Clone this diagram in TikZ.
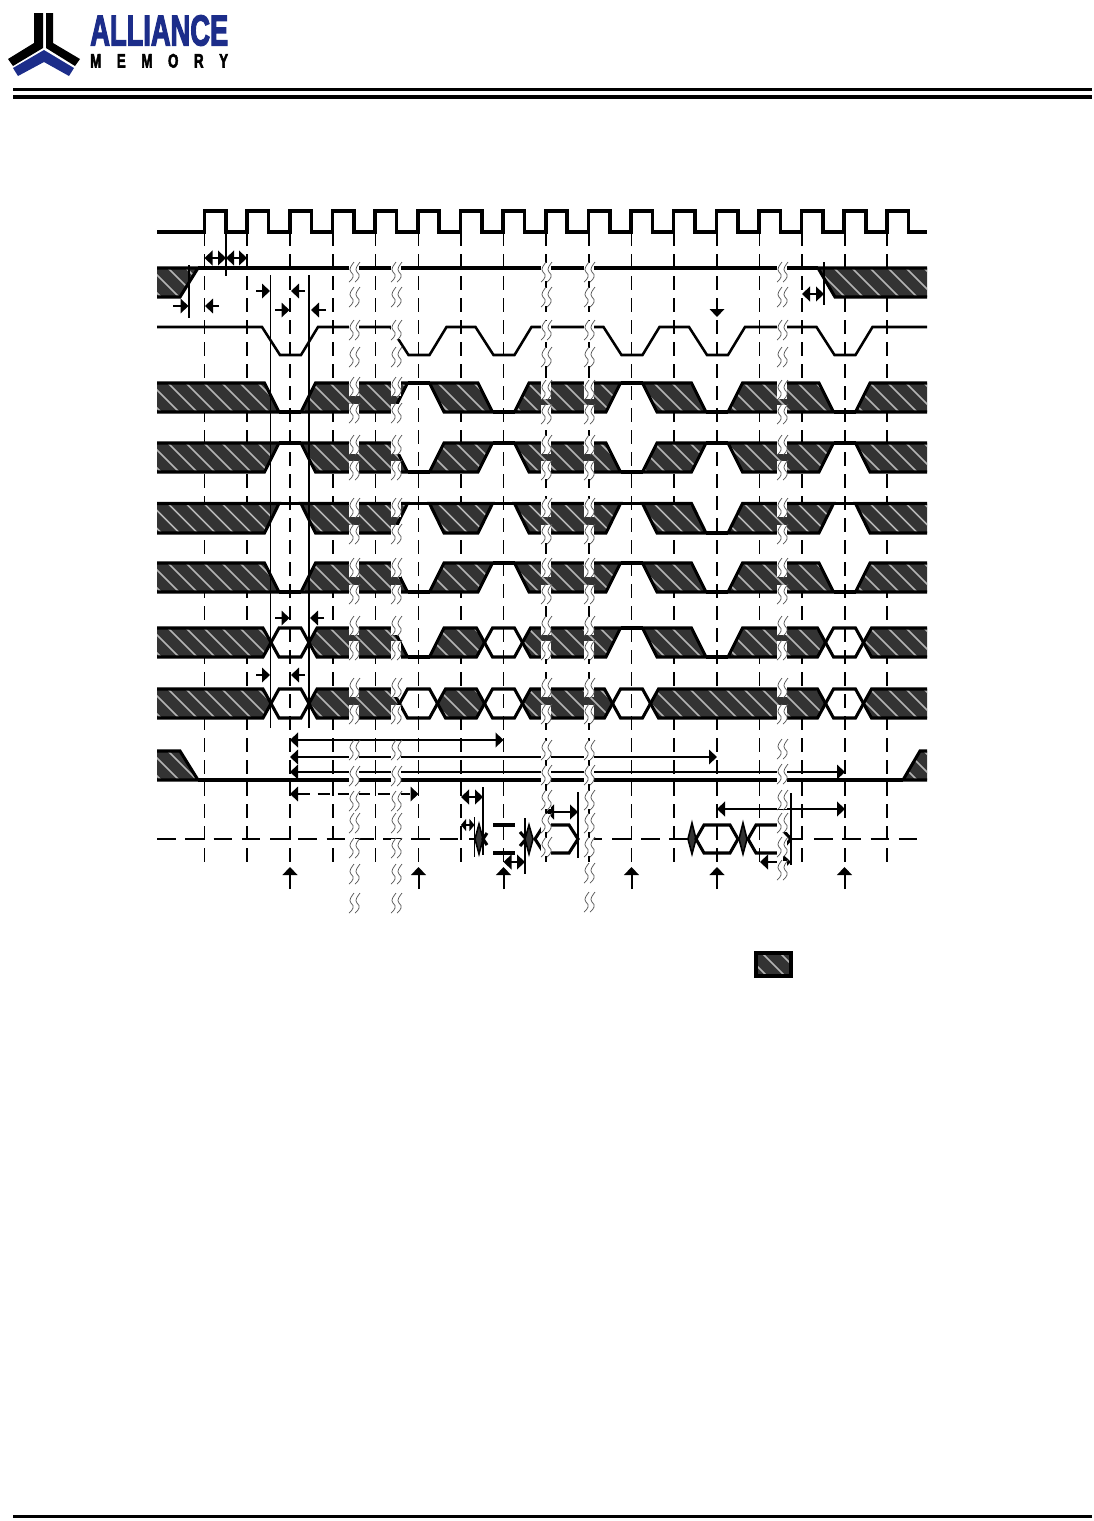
\documentclass[tikz,border=0pt]{standalone}
\usepackage{fontspec}
\usepackage{graphicx}
\setmainfont{Liberation Sans}
\newfontfamily\logofont[BoldFeatures={FakeBold=3.5}]{Liberation Sans}
\usetikzlibrary{arrows.meta}
\definecolor{hatchdark}{HTML}{333333}
\definecolor{hatchlight}{HTML}{B4B4B4}
\definecolor{logoblue}{HTML}{1C2D8A}
\definecolor{breakgrey}{HTML}{555555}
\tikzset{
  sig/.style={line width=2.3pt,black,line join=miter,miter limit=3},
  csline/.style={line width=1.9pt,black},
  clk/.style={line width=2.7pt,black},
  hatchfill/.style={fill=hatchdark},
  stripe/.style={line width=1.25pt,hatchlight},
  gridthin/.style={line width=0.9pt,black,dash pattern=on 10.5pt off 6pt},
  gridthick/.style={line width=1.8pt,black,dash pattern=on 10.5pt off 6pt},
  dqdash/.style={line width=1.9pt,black,dash pattern=on 14pt off 7.2pt},
  dqpiece/.style={line width=1.9pt,black},
  vmark/.style={line width=1pt,black},
  vmarkb/.style={line width=2pt,black},
  arrowone/.style={line width=1pt,-{Triangle[length=6pt,width=11pt]}},
  arrowthick/.style={line width=1.5pt,-{Triangle[length=6pt,width=11pt]}},
  arrowdbl/.style={line width=1.4pt,{Triangle[length=6pt,width=11pt]}-{Triangle[length=6pt,width=11pt]}},
  arrowshort/.style={line width=1.4pt,{Triangle[length=3.8pt,width=9pt]}-{Triangle[length=3.8pt,width=9pt]}},
  arrowdblthin/.style={line width=1pt,{Triangle[length=6pt,width=11pt]}-{Triangle[length=6pt,width=11pt]}},
  arrowdash/.style={line width=1pt,dash pattern=on 9pt off 6pt,{Triangle[length=6pt,width=11pt]}-{Triangle[length=6pt,width=11pt]}},
  breakline/.style={line width=0.55pt,breakgrey},
  rule/.style={black}
}
% hatched polygon: {top}{bottom}{path without cycle}
\newcommand\hatchpoly[3]{%
  \fill[hatchfill] #3 -- cycle;
  \begin{scope}
    \clip #3 -- cycle;
    \foreach \kk in {60,78,...,1060}{\draw[stripe] (\kk,#1) -- (\kk+#2-#1,#2);}
  \end{scope}
  \draw[sig] #3 -- cycle;
}
% edge paths of a shaded piece next to a pulse
\newcommand\setafter[2]{%
  \if L#2\xdef\aftpath{(#1+11,\Ybot) -- (#1+25.5,\Ytop)}\fi
  \if H#2\xdef\aftpath{(#1+25.5,\Ybot) -- (#1+11,\Ytop)}\fi
  \if X#2\xdef\aftpath{(#1+27,\Ybot) -- (#1+19,\Ymid) -- (#1+27,\Ytop)}\fi
  \if E#2\xdef\aftpath{(#1,\Ybot) -- (#1,\Ytop)}\fi
}
\newcommand\setbefore[2]{%
  \if L#2\xdef\befpath{(#1-25.5,\Ytop) -- (#1-11,\Ybot)}\fi
  \if H#2\xdef\befpath{(#1-11,\Ytop) -- (#1-25.5,\Ybot)}\fi
  \if X#2\xdef\befpath{(#1-27,\Ytop) -- (#1-19,\Ymid) -- (#1-27,\Ybot)}\fi
  \if E#2\xdef\befpath{(#1,\Ytop) -- (#1,\Ybot)}\fi
}
\newcommand\pulsebody[2]{%
  \if L#2\draw[sig] (#1-11,\Ybot) -- (#1+11,\Ybot);\fi
  \if H#2\draw[sig] (#1-11,\Ytop) -- (#1+11,\Ytop);\fi
  \if X#2\draw[sig] (#1-19,\Ymid) -- (#1-11,\Ytop) -- (#1+11,\Ytop) -- (#1+19,\Ymid) -- (#1+11,\Ybot) -- (#1-11,\Ybot) -- cycle;\fi
}
\newcommand\sigrow[3]{%
  \xdef\Ytop{#1}\xdef\Ybot{#2}\xdef\Ymid{0.5*#1+0.5*#2}%
  \setafter{100}{E}%
  \foreach \px/\ps in {#3,960/E}{%
    \setbefore{\px}{\ps}%
    \xdef\polytext{\noexpand\hatchpoly{#1}{#2}{\aftpath\space -- \befpath}}%
    \polytext
    \pulsebody{\px}{\ps}%
    \setafter{\px}{\ps}%
  }%
}
% break mark: two S curves on a white patch
\newcommand\brk[2]{%
  \fill[white] (#1-5,#2-9) rectangle (#1+5,#2+9);
  \draw[breakline] (#1,#2-10) .. controls (#1-2,#2-7) and (#1-6,#2-3) .. (#1-3,#2)
     .. controls (#1+1,#2+3) and (#1-1,#2+7) .. (#1-5,#2+10);
  \draw[breakline] (#1+6,#2-10) .. controls (#1+4,#2-7) and (#1,#2-3) .. (#1+3,#2)
     .. controls (#1+7,#2+3) and (#1+5,#2+7) .. (#1+1,#2+10);
}
\begin{document}
\begin{tikzpicture}[x=0.75pt,y=-0.75pt]
\useasboundingbox (0,0) rectangle (1094,1521);
% logo
\fill[black] (34,13) -- (43,13) -- (43,48) -- (13,66) -- (8,59) -- (34,43) -- cycle;
\fill[black] (46,13) -- (53,13) -- (53,43) -- (80,59) -- (75,66) -- (46,48) -- cycle;
\fill[logoblue] (44,50) -- (74,68) -- (69,76) -- (44,62) -- (18,76) -- (13,68) -- cycle;
\node[anchor=south west,inner sep=0pt,text=logoblue] (logotop) at (90,46)
  {\resizebox{103.5pt}{22.5pt}{\logofont\bfseries ALLIANCE}};
\node[anchor=south west,inner sep=0pt] (logobottom) at (90,68)
  {\scalebox{0.68}[1]{\makebox[152pt][s]{\fontsize{14.6}{15}\selectfont\logofont\bfseries M\hfill E\hfill M\hfill O\hfill R\hfill Y}}};
% rules
\fill[rule] (13,88) rectangle (1092,90.7);
\fill[rule] (13,95) rectangle (1092,99);
\fill[rule] (13,1515) rectangle (1092,1518);
% grid
\foreach \gx in {204.5,290,333,375.5,418.5,503.5,589,631.5,674,759.5,887}
  {\draw[gridthin] (\gx,232) -- (\gx,866);}
\foreach \gx in {247,461,546,717,802,845}
  {\draw[gridthick] (\gx,232) -- (\gx,866);}
% clock
\draw[clk] (157,232) foreach \ci in {0,...,16} {
  -- ({204.5+42.65*\ci},232) -- ({204.5+42.65*\ci},211) -- ({226+42.65*\ci},211) -- ({226+42.65*\ci},232)} -- (927,232);
% CS line
\draw[csline] (157,327) -- (262,327) -- (280,355) -- (301,355) -- (318,327)
  -- (390.5,327) -- (408.5,355) -- (429.5,355) -- (446.5,327)
  -- (475.5,327) -- (493.5,355) -- (514.5,355) -- (531.5,327)
  -- (603.5,327) -- (621.5,355) -- (642.5,355) -- (659.5,327)
  -- (689,327) -- (707,355) -- (728,355) -- (745,327)
  -- (816.5,327) -- (834.5,355) -- (855.5,355) -- (872.5,327) -- (927,327);
% shaded rows
\begin{scope}
\clip (157,200) rectangle (927,1000);
\hatchpoly{268}{297}{(120,297) -- (180,297) -- (198,268) -- (120,268)}
\hatchpoly{268}{297}{(818,268) -- (960,268) -- (960,297) -- (835,297)}
\draw[sig] (198,268) -- (818,268);
\sigrow{383}{412}{290/L,418.5/H,503.5/L,631.5/H,717/L,844.5/L}
\sigrow{443}{472}{290/H,418.5/L,503.5/H,631.5/L,717/H,844.5/H}
\sigrow{503.5}{533}{290/H,418.5/H,503.5/H,631.5/H,717/L,844.5/H}
\sigrow{563}{592}{290/L,418.5/L,503.5/H,631.5/H,717/L,844.5/L}
\sigrow{628}{657}{290/X,418.5/L,503.5/X,631.5/H,717/L,844.5/X}
\sigrow{689}{718}{290/X,418.5/X,503.5/X,631.5/X,844.5/X}
\hatchpoly{751}{780}{(120,780) -- (198,780) -- (180,751) -- (120,751)}
\hatchpoly{751}{780}{(903,780) -- (920,751) -- (960,751) -- (960,780)}
\draw[sig] (198,780) -- (903,780);
\end{scope}
% timing verticals
\draw[vmark] (226,232) -- (226,276);
\draw[vmarkb] (189,265) -- (189,318);
\draw[vmark] (270.5,275) -- (270.5,728);
\draw[vmark] (309,275) -- (309,728);
\draw[vmarkb] (824,262) -- (824,305);
\draw[vmark] (483,787) -- (483,855);
\draw[vmark] (474.5,817) -- (474.5,857);
\draw[vmarkb] (525,818) -- (525,874);
\draw[vmarkb] (578,792) -- (578,858);
\draw[vmarkb] (791,793) -- (791,865);
% timing arrows
\draw[arrowdbl] (204.5,258) -- (226,258);
\draw[arrowdbl] (226,258) -- (247,258);
\draw[arrowone] (173,306) -- (188.5,306);
\draw[arrowone] (219,306) -- (205,306);
\draw[arrowone] (256,291) -- (270,291);
\draw[arrowone] (305,291) -- (291,291);
\draw[arrowone] (275,310) -- (289.5,310);
\draw[arrowone] (326,310) -- (311,310);
\draw[arrowone] (275,618) -- (289.5,618);
\draw[arrowone] (324,618) -- (310,618);
\draw[arrowone] (256,675) -- (270,675);
\draw[arrowone] (305,675) -- (291,675);
\draw[arrowdbl] (290,740) -- (503.5,740);
\draw[arrowdblthin] (290,757) -- (717,757);
\draw[arrowdblthin] (290,772) -- (845,772);
\draw[arrowdash] (290,794) -- (418.5,794);
\draw[arrowdbl] (802,294) -- (824,294);
\draw[arrowdbl] (461,797) -- (483,797);
\draw[arrowshort] (461,825) -- (474.5,825);
\draw[arrowdbl] (503.5,862) -- (525,862);
\draw[arrowdbl] (546,812) -- (578,812);
\draw[arrowdbl] (717,809) -- (845,809);
\draw[arrowdbl] (760,862) -- (791,862);
\draw[arrowone] (717,303) -- (717,317);
\foreach \ax in {290,418.5,503.5,631.5,717,844.5}
  {\draw[arrowthick] (\ax,889) -- (\ax,867);}
% data bus
\draw[dqdash] (157,839) -- (458,839);
\draw[dqpiece] (469,839) -- (475,839);
\filldraw[hatchfill,draw=black,line width=1.2pt] (479,824) -- (483,839) -- (479,854) -- (475,839) -- cycle;
\draw[sig] (487,833) -- (483,839) -- (487,845);
\draw[sig] (493,825) -- (515,825);
\draw[sig] (493,853) -- (515,853);
\draw[sig] (520,832) -- (526,839) -- (520,846);
\filldraw[hatchfill,draw=black,line width=1.2pt] (529,825) -- (533,839) -- (529,854) -- (525,839) -- cycle;
\draw[sig] (535,839) -- (544,825) -- (569,825) -- (578,839) -- (569,853) -- (544,853) -- cycle;
\draw[dqpiece] (584,839) -- (586,839);
\draw[dqpiece] (593,839) -- (602,839);
\draw[dqpiece] (612,839) -- (631,839);
\draw[dqdash] (641,839) -- (688,839);
\filldraw[hatchfill,draw=black,line width=1.2pt] (692,823) -- (696,839) -- (692,854) -- (688,839) -- cycle;
\draw[sig] (696,839) -- (704,825) -- (730,825) -- (738,839) -- (730,853) -- (704,853) -- cycle;
\filldraw[hatchfill,draw=black,line width=1.2pt] (743,823) -- (747,839) -- (743,854) -- (739,839) -- cycle;
\draw[sig] (748,839) -- (756,825) -- (778,825) -- (791,839) -- (778,853) -- (756,853) -- cycle;
\draw[dqpiece] (791,839) -- (803,839);
\draw[dqdash] (814,839) -- (918,839);
% legend
\hatchpoly{953}{976}{(756,953) -- (791,953) -- (791,976) -- (756,976)}
\draw[line width=1.9pt,rounded corners=1pt] (756,953) rectangle (791,976);
% break marks
\foreach \bx in {354,396}{
  \foreach \by in {272,297,330,357,387,413,445,470,508,534,568,594,626,650,688,714,750,776,801,823,848,874,903}{
    \brk{\bx}{\by}
  }
}
\foreach \by in {272,297,330,357,390,414,445,470,508,534,568,594,626,650,688,714,750,775,800,823,847}{
  \brk{546}{\by}
}
\foreach \by in {272,297,330,357,390,414,445,470,508,534,568,594,626,650,688,714,750,775,800,823,847,873,902}{
  \brk{589}{\by}
}
\foreach \by in {272,297,330,357,390,414,445,470,508,534,568,594,626,650,688,714,749,774,800,823,847,870}{
  \brk{782}{\by}
}
\end{tikzpicture}
\end{document}
